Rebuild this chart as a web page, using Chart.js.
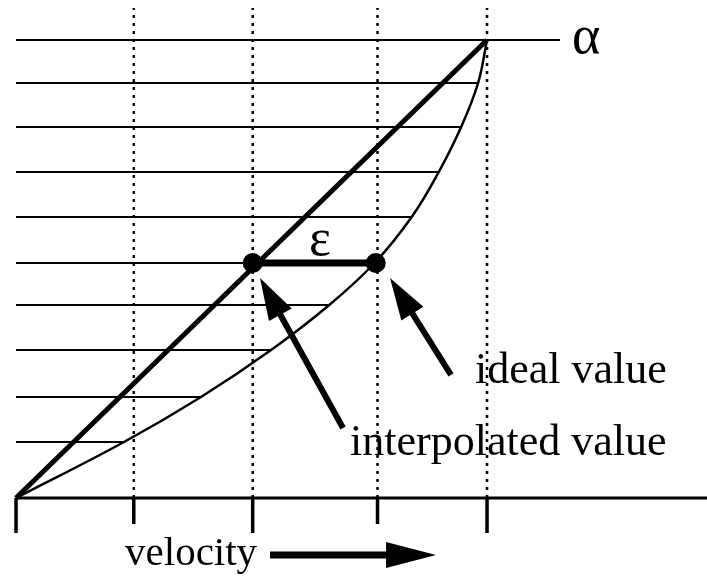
<!DOCTYPE html>
<html>
<head>
<meta charset="utf-8">
<script src="https://cdn.jsdelivr.net/npm/chart.js@4.4.1/dist/chart.umd.min.js"></script>
<style>
  html, body { margin: 0; padding: 0; background: #fff; }
  #wrap { width: 707px; height: 578px; }
</style>
</head>
<body>
<div id="wrap"><canvas id="chart" width="707" height="578"></canvas></div>
<script>
// Velocity positions of the tick marks (x units)
const tickPositions = [0, 1.0, 2.01, 3.07, 4.0];
const tickLong = [true, false, true, false, true];

// Alpha levels of the horizontal lines (0 = velocity axis)
const alphaLevels = [0, 1.223, 2.205, 3.231, 4.214, 5.131, 6.135, 7.118, 8.100, 9.061, 10.0];
// Ideal velocity at each alpha level (the thin curve)
const idealVelocity = [0, 0.917, 1.571, 2.166, 2.66, 3.045, 3.36, 3.59, 3.78, 3.924, 4.0];

// Straight (interpolated) line between the two end points
const interpVelocity = [0, 4.0];
const interpAlpha = [0, 10.0];

// The marked pair at one level: interpolated and ideal value
const markLevel = 5.131;
const markVelocity = [2.01, 3.055];

// Where the top line stops (before the alpha label)
const topLineEnd = 4.62;

document.addEventListener('DOMContentLoaded', function() {
    const X_MIN = -0.136, X_MAX = 5.868;
    const Y_MIN = -1.747, Y_MAX = 10.873;
    const GRID_TOP = 10.70;
    const SERIF = '"Liberation Serif", "Times New Roman", serif';

    // Arrows and labels, in chart units
    const arrows = [
        { from: [2.777, 1.528], to: [2.072, 4.803], width: 6, head: 42, half: 13 },
        { from: [3.694, 2.686], to: [3.176, 4.803], width: 6, head: 42, half: 13 },
        { from: [2.157, -1.245], to: [3.567, -1.245], width: 7, head: 50, half: 13 }
    ];
    const texts = [
        { text: 'α', at: [4.722, 9.716], size: 54 },
        { text: 'ε', at: [2.488, 5.306], size: 52 },
        { text: 'ideal value', at: [3.898, 2.511], size: 44 },
        { text: 'interpolated value', at: [2.837, 0.939], size: 44 },
        { text: 'velocity', at: [0.926, -1.463], size: 41 }
    ];

    function segment(points, width, extra) {
        return Object.assign({
            data: points,
            showLine: true,
            borderColor: '#000',
            borderWidth: width,
            pointRadius: 0,
            fill: false
        }, extra || {});
    }

    const datasets = [];

    // Horizontal lines, each stopping at the ideal curve
    alphaLevels.forEach((level, i) => {
        if (i === 0) return;
        const end = i === alphaLevels.length - 1 ? topLineEnd : idealVelocity[i];
        datasets.push(segment([{ x: 0, y: level }, { x: end, y: level }], 2));
    });

    // Dotted vertical lines
    tickPositions.slice(1).forEach(v => {
        datasets.push(segment([{ x: v, y: 0 }, { x: v, y: GRID_TOP }], 2.5, { borderDash: [3, 5] }));
    });

    // Velocity axis and tick marks
    datasets.push(segment([{ x: 0, y: 0 }, { x: X_MAX, y: 0 }], 3));
    tickPositions.forEach((v, i) => {
        const bottom = tickLong[i] ? -0.764 : -0.568;
        datasets.push(segment([{ x: v, y: 0 }, { x: v, y: bottom }], 3.5));
    });

    // Ideal curve
    datasets.push(segment(idealVelocity.map((v, i) => ({ x: v, y: alphaLevels[i] })), 2.5, {
        tension: 0.4
    }));

    // Interpolated straight line
    datasets.push(segment(interpVelocity.map((v, i) => ({ x: v, y: interpAlpha[i] })), 5));

    // Epsilon segment and the two dots
    datasets.push(segment(markVelocity.map(v => ({ x: v, y: markLevel })), 7));
    datasets.push({
        data: markVelocity.map(v => ({ x: v, y: markLevel })),
        showLine: false,
        pointRadius: 9,
        pointBackgroundColor: '#000',
        pointBorderColor: '#000',
        pointBorderWidth: 2
    });

    function drawArrow(ctx, x0, y0, x1, y1, width, head, half) {
        const ang = Math.atan2(y1 - y0, x1 - x0);
        const bx = x1 - Math.cos(ang) * head;
        const by = y1 - Math.sin(ang) * head;
        ctx.lineWidth = width;
        ctx.strokeStyle = '#000';
        ctx.beginPath();
        ctx.moveTo(x0, y0);
        ctx.lineTo(bx + Math.cos(ang) * 4, by + Math.sin(ang) * 4);
        ctx.stroke();
        ctx.beginPath();
        ctx.moveTo(x1, y1);
        ctx.lineTo(bx + Math.sin(ang) * half, by - Math.cos(ang) * half);
        ctx.lineTo(bx - Math.sin(ang) * half, by + Math.cos(ang) * half);
        ctx.closePath();
        ctx.fillStyle = '#000';
        ctx.fill();
    }

    const annotations = {
        id: 'annotations',
        afterDatasetsDraw(chart) {
            const ctx = chart.ctx;
            const x = chart.scales.x, y = chart.scales.y;
            ctx.save();
            arrows.forEach(a => {
                drawArrow(ctx,
                    x.getPixelForValue(a.from[0]), y.getPixelForValue(a.from[1]),
                    x.getPixelForValue(a.to[0]), y.getPixelForValue(a.to[1]),
                    a.width, a.head, a.half);
            });
            ctx.fillStyle = '#000';
            ctx.textAlign = 'left';
            ctx.textBaseline = 'alphabetic';
            texts.forEach(t => {
                ctx.font = t.size + 'px ' + SERIF;
                ctx.fillText(t.text, x.getPixelForValue(t.at[0]), y.getPixelForValue(t.at[1]));
            });
            ctx.restore();
        }
    };

    const background = {
        id: 'background',
        beforeDraw(chart) {
            const ctx = chart.ctx;
            ctx.save();
            ctx.fillStyle = '#fff';
            ctx.fillRect(0, 0, chart.width, chart.height);
            ctx.restore();
        }
    };

    new Chart(document.getElementById('chart'), {
        type: 'scatter',
        data: { datasets: datasets },
        options: {
            responsive: false,
            animation: false,
            layout: { padding: 0, autoPadding: false },
            plugins: { legend: { display: false }, tooltip: { enabled: false } },
            scales: {
                x: { type: 'linear', min: X_MIN, max: X_MAX, display: false },
                y: { type: 'linear', min: Y_MIN, max: Y_MAX, display: false }
            }
        },
        plugins: [background, annotations]
    });
});
</script>
</body>
</html>
